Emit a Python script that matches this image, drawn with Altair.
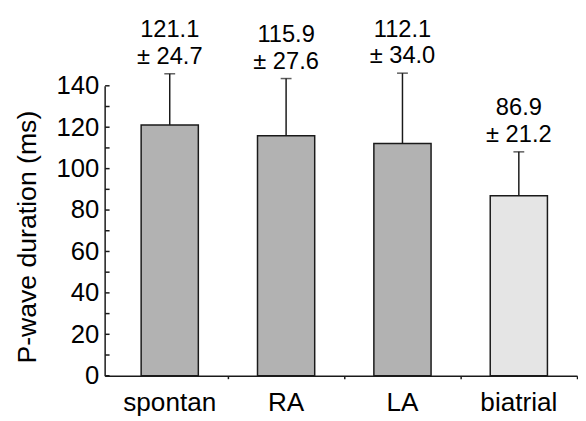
import altair as alt
import pandas as pd

categories = ["spontan", "RA", "LA", "biatrial"]
means = [121.1, 115.9, 112.1, 86.9]
sds = [24.7, 27.6, 34.0, 21.2]
fills = ["#b2b2b2", "#b2b2b2", "#b2b2b2", "#e5e5e5"]
y_label_values = list(range(0, 141, 20))
y_tick_values = list(range(0, 141, 10))

df = pd.DataFrame({"cat": categories, "mean": means, "sd": sds, "fill": fills})
df["upper"] = df["mean"] + df["sd"]
df["label"] = [f"{m:.1f}\n± {s:.1f}" for m, s in zip(means, sds)]
ticks_df = pd.DataFrame({"v": y_tick_values})

FONT = "Liberation Sans"
INK = "#1a1a1a"

xscale = alt.Scale(domain=categories, paddingInner=0, paddingOuter=0.0297, align=1)
yscale = alt.Scale(domain=[0, 140], nice=False, zero=True)

x_axis = alt.Axis(
    title=None, bandPosition=1, tickSize=3, labelPadding=11,
    labelAngle=0, labelFontSize=26.5, labelFont=FONT, labelColor="#000",
    labelBound=False, labelOverlap=False, labelLimit=0,
    domainColor=INK, tickColor=INK, domainWidth=1.5, tickWidth=1.5,
)

y_axis = alt.Axis(
    title="P-wave duration (ms)", values=y_label_values, ticks=False, tickSize=0,
    labelPadding=6, labelFontSize=26, labelFont=FONT, labelColor="#000",
    domainColor=INK, domainWidth=1.5, grid=False,
    titleFont=FONT, titleFontSize=27, titleFontWeight="normal", titleColor="#000",
    titleAngle=270, titleX=-78, titleY=153, titleAlign="center", titleBaseline="middle",
)

def X():
    return alt.X("cat:N", sort=categories, scale=xscale, axis=x_axis)

def Y(field):
    return alt.Y(field, scale=yscale, axis=y_axis)

base = alt.Chart(df)

bars = base.mark_bar(size=58, stroke=INK, strokeWidth=1.5).encode(
    x=X(),
    y=Y("mean:Q"),
    fill=alt.Fill("fill:N", scale=None),
)

err = base.mark_rule(color=INK, strokeWidth=1.5).encode(
    x=X(),
    y=Y("mean:Q"),
    y2="upper:Q",
)

caps = base.mark_tick(color=INK, size=11, thickness=1.5, orient="horizontal").encode(
    x=X(),
    y=Y("upper:Q"),
)

labels = base.mark_text(
    baseline="bottom", dy=-32, fontSize=24, lineHeight=27, lineBreak="\n",
    font=FONT, color="#000",
).encode(
    x=X(),
    y=Y("upper:Q"),
    text="label:N",
)

yticks = alt.Chart(ticks_df).mark_rule(color=INK, strokeWidth=1.5).encode(
    x=alt.value(0.5), x2=alt.value(5),
    y=Y("v:Q"),
)

chart = alt.layer(bars, err, caps, labels, yticks).properties(
    width=479, height=294,
    autosize=alt.AutoSizeParams(type="none"),
    padding={"left": 98, "top": 76, "right": 1, "bottom": 41},
).configure_view(stroke=None)

chart.save("out.html", embed_options={"renderer": "svg", "actions": False})
